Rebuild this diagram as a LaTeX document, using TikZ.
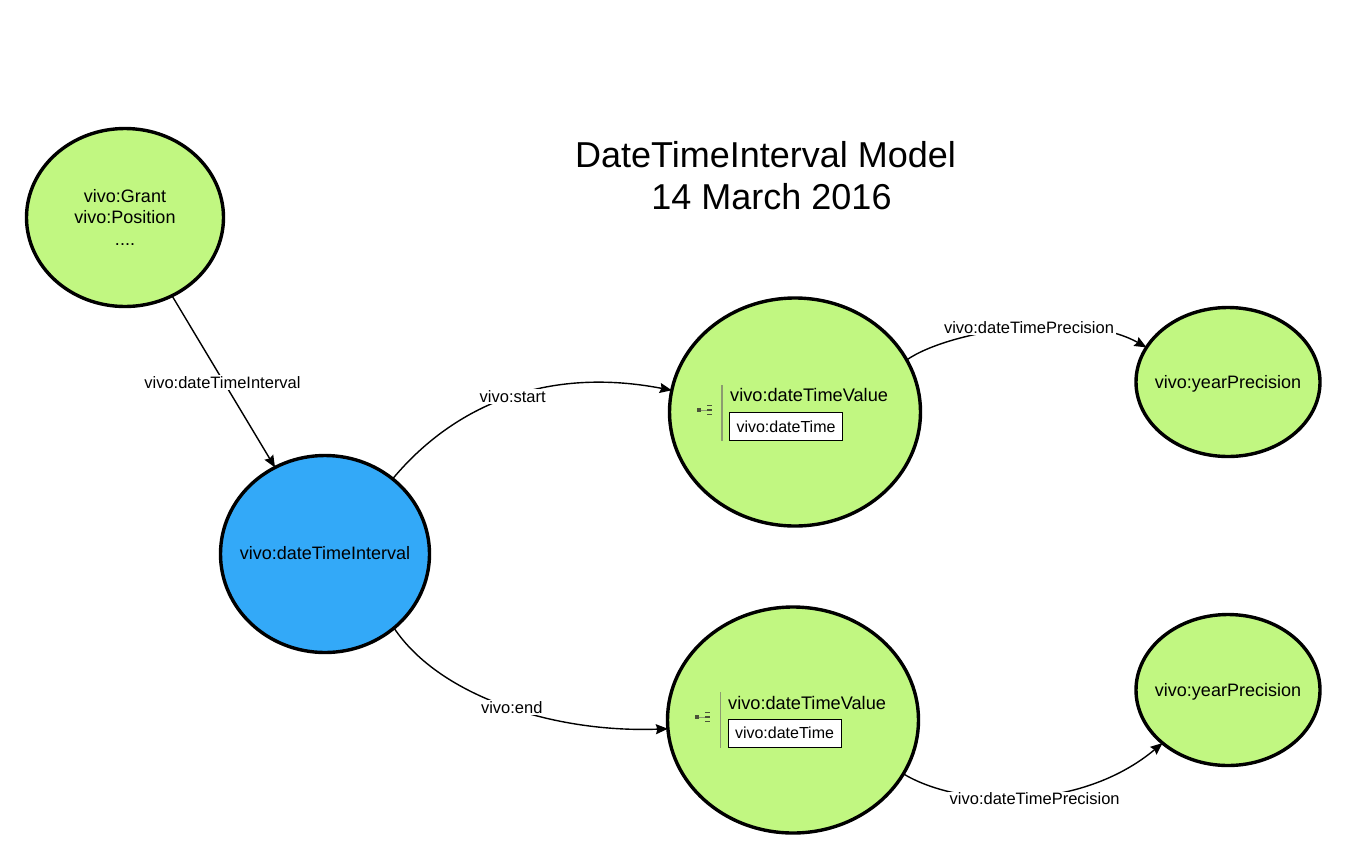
\documentclass[tikz,border=0pt]{standalone}
\usepackage{fontspec}
\setmainfont{Liberation Sans}
\usetikzlibrary{shapes.geometric,arrows.meta}
\definecolor{lime}{HTML}{C1F781}
\definecolor{skyb}{HTML}{33A9F8}
\definecolor{rulec}{HTML}{8C9C70}
\definecolor{iconc}{HTML}{4A5238}
\tikzset{
  x=1pt,y=-1pt,
  blob/.style={shape=ellipse,draw=black,line width=3.4pt,inner sep=0pt,outer sep=0pt},
  blobtext/.style={inner sep=0pt,align=center,font=\fontsize{18}{21.5}\selectfont},
  conn/.style={line width=1.4pt,draw=black},
  arrowed/.style={conn,-{Stealth[inset=1.5pt,length=12pt,width=10pt]}},
  lbl/.style={fill=white,inner sep=1.5pt,font=\fontsize{16.5}{19}\selectfont},
  valtext/.style={inner sep=0pt,anchor=west,font=\fontsize{18.2}{21}\selectfont},
  dtbox/.style={draw=black,line width=1pt,fill=white,inner sep=0pt,minimum width=113pt,minimum height=28pt,
    font=\fontsize{16}{19}\selectfont},
  titletext/.style={inner sep=0pt,font=\fontsize{36}{42}\selectfont},
  vrule/.style={draw=rulec,line width=1.3pt},
  iconline/.style={draw=iconc,line width=1.3pt},
}
\newcommand{\treeicon}[2]{%
  \fill[iconc] (#1-1.8,#2-1.8) rectangle (#1+2.2,#2+2.2);
  \draw[draw=rulec,line width=.6pt] (#1+2.2,#2) -- (#1+8,#2);
  \foreach \dy in {-4.5,0,4.5}{\draw[iconline,line width=1.7pt] (#1+8.5,#2+\dy) -- (#1+13,#2+\dy);}
}
\begin{document}
\begin{tikzpicture}
\path[fill=white,use as bounding box] (0,0) rectangle (1370,860);

\node[titletext] (t1) at (765.5,155) {DateTimeInterval Model};
\node[titletext] (t2) at (771.5,196.5) {14 March 2016};

\node[blob,fill=lime,minimum width=197pt,minimum height=178pt] (grant) at (125,217.5) {};
\node[blob,fill=skyb,minimum width=209pt,minimum height=197pt] (intv) at (325,554) {};
\node[blob,fill=lime,minimum width=251pt,minimum height=228pt] (val1) at (795,412) {};
\node[blob,fill=lime,minimum width=251pt,minimum height=226pt] (val2) at (793,720) {};
\node[blob,fill=lime,minimum width=184pt,minimum height=149pt] (yp1) at (1228,382) {};
\node[blob,fill=lime,minimum width=184pt,minimum height=151pt] (yp2) at (1228,690) {};

\node[blobtext] (grantt) at (125,217) {vivo:Grant\\vivo:Position\\....};
\node[blobtext] (intvt) at (325,553.5) {vivo:dateTimeInterval};
\node[blobtext] (yp1t) at (1228,383.5) {vivo:yearPrecision};
\node[blobtext] (yp2t) at (1228,691.5) {vivo:yearPrecision};

\draw[arrowed] (grant.-59) -- node[lbl,pos=.49,yshift=-2.5pt] (l1) {vivo:dateTimeInterval} (intv.120);
\draw[arrowed] (intv.48) .. controls (450,410) and (540,365) .. node[lbl,pos=.53] (l2) {vivo:start} (val1.170.6);
\draw[arrowed] (intv.-47) .. controls (440,697) and (555,733) .. node[lbl,pos=.52] (l3) {vivo:end} (val2.184);
\draw[arrowed] (val1.25.5) .. controls (950,330) and (1080,310) .. node[lbl,pos=.54] (l4) {vivo:dateTimePrecision} (yp1.157.5);
\draw[arrowed] (val2.-26.6) .. controls (960,808) and (1080,812) .. node[lbl,pos=.54,yshift=-3pt] (l5) {vivo:dateTimePrecision} (yp2.219.2);

\draw[vrule] (722,385) -- (722,441);
\treeicon{698.5}{410}
\node[valtext] (v1t) at (730,395) {vivo:dateTimeValue};
\node[dtbox] (b1) at (786,426.5) {vivo:dateTime};

\draw[vrule] (720.5,692) -- (720.5,748);
\treeicon{696.5}{717}
\node[valtext] (v2t) at (728,703) {vivo:dateTimeValue};
\node[dtbox] (b2) at (784.5,733) {vivo:dateTime};
\end{tikzpicture}
\end{document}
